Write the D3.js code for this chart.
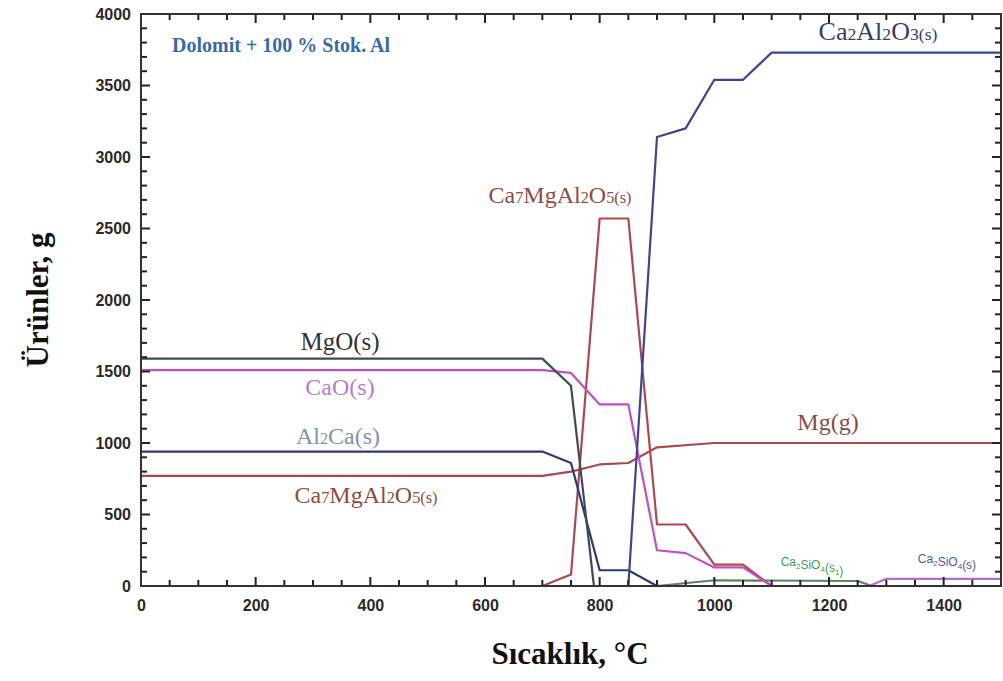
<!DOCTYPE html>
<html><head><meta charset="utf-8">
<script src="https://cdn.jsdelivr.net/npm/d3@7/dist/d3.min.js"></script>
<style>body{margin:0;background:#fff}</style>
</head><body>
<svg id="c" width="1003" height="681"></svg>
<script>
// ---- data (temperature °C, mass g) ----
const xTicks = [0, 200, 400, 600, 800, 1000, 1200, 1400];
const yTicks = [0, 500, 1000, 1500, 2000, 2500, 3000, 3500, 4000];
const MgO      = [[0,1590],[700,1590],[750,1400],[790,0],[1500,0]];
const CaO      = [[0,1510],[700,1510],[750,1490],[800,1270],[850,1270],[900,250],[950,230],[1000,130],[1050,130],[1100,0],[1500,0]];
const Al2Ca    = [[0,940],[700,940],[750,860],[800,110],[850,110],[900,0],[1500,0]];
const MgGas    = [[0,770],[700,770],[750,800],[800,850],[850,860],[900,970],[1000,1000],[1500,1000]];
const Ca7MgAl2O5 = [[700,0],[750,80],[800,2570],[850,2570],[900,430],[950,430],[1000,150],[1050,150],[1100,0],[1500,0]];
const Ca2Al2O3 = [[0,0],[850,0],[900,3140],[950,3200],[1000,3540],[1050,3540],[1100,3730],[1500,3730]];
const Ca2SiO4s1 = [[900,0],[1000,40],[1250,35],[1275,0]];
const Ca2SiO4s  = [[1270,0],[1300,50],[1500,50]];

const series = [
  {d: Ca2SiO4s1, c: "#5f7f68"},
  {d: Ca2SiO4s,  c: "#b070c8"},
  {d: MgGas,     c: "#a94a4e"},
  {d: Ca7MgAl2O5,c: "#a94a4e"},
  {d: Al2Ca,     c: "#2e3a78"},
  {d: CaO,       c: "#c24fbf"},
  {d: MgO,       c: "#3c4c52"},
  {d: Ca2Al2O3,  c: "#3d4590"}
];

// labels: segments [text, isSmall]
const labels = [
  {segs:[["MgO(s)",0]], x:340, y:350, c:"#333333", fs:25},
  {segs:[["CaO(s)",0]], x:340, y:395, c:"#b47ccc", fs:24},
  {segs:[["Al",0],["2",1],["Ca(s)",0]], x:338, y:444, c:"#8592ab", fs:24},
  {segs:[["Ca",0],["7",1],["MgAl",0],["2",1],["O",0],["5(s)",1]], x:366, y:503, c:"#8a4c45", fs:24},
  {segs:[["Ca",0],["7",1],["MgAl",0],["2",1],["O",0],["5(s)",1]], x:560, y:203, c:"#8a4c45", fs:24},
  {segs:[["Mg(g)",0]], x:828, y:430, c:"#8a4c45", fs:24},
  {segs:[["Ca",0],["2",1],["Al",0],["2",1],["O",0],["3(s)",1]], x:878, y:40, c:"#3b3d5a", fs:26},
];
</script>
<script>
const svg = d3.select("#c");
const L = 141, R = 1001, T = 14, B = 586;
const x = d3.scaleLinear().domain([0,1500]).range([L,R]);
const y = d3.scaleLinear().domain([0,4000]).range([B,T]);

// lines
const line = d3.line().x(d=>x(d[0])).y(d=>y(d[1]));
series.forEach(s=>{
  svg.append("path").attr("d",line(s.d)).attr("fill","none").attr("stroke",s.c)
    .attr("stroke-width",2.2).attr("stroke-linejoin","round");
});

// minor + major ticks on all sides (inward)
const g = svg.append("g");
const xMinor = d3.range(0,1501,50), yMinor = d3.range(0,4001,100);
xMinor.forEach(v=>{
  const len = v%200===0 ? 9 : 6;
  g.append("line").attr("x1",x(v)).attr("x2",x(v)).attr("y1",B).attr("y2",B-len).attr("stroke","#222").attr("stroke-width",2);
  g.append("line").attr("x1",x(v)).attr("x2",x(v)).attr("y1",T).attr("y2",T+len).attr("stroke","#222").attr("stroke-width",2);
});
yMinor.forEach(v=>{
  const len = v%500===0 ? 9 : 6;
  g.append("line").attr("y1",y(v)).attr("y2",y(v)).attr("x1",L).attr("x2",L+len).attr("stroke","#222").attr("stroke-width",2);
  g.append("line").attr("y1",y(v)).attr("y2",y(v)).attr("x1",R).attr("x2",R-len).attr("stroke","#222").attr("stroke-width",2);
});

// axes labels via d3 axes
const xAxis = svg.append("g").attr("transform",`translate(0,${B})`)
  .call(d3.axisBottom(x).tickValues(xTicks).tickSize(0).tickPadding(14).tickFormat(d3.format("d")));
const yAxis = svg.append("g").attr("transform",`translate(${L},0)`)
  .call(d3.axisLeft(y).tickValues(yTicks).tickSize(0).tickPadding(10).tickFormat(d3.format("d")));
[xAxis,yAxis].forEach(a=>{
  a.select(".domain").remove();
  a.selectAll("text").attr("font-family","Liberation Sans, Arial, sans-serif").attr("font-weight","bold")
   .attr("font-size",16).attr("fill","#2a2a2a");
});

// frame
svg.append("rect").attr("x",L).attr("y",T).attr("width",R-L).attr("height",B-T)
  .attr("fill","none").attr("stroke","#333").attr("stroke-width",2);

// labels
labels.forEach(l=>{
  const t = svg.append("text").attr("x",l.x).attr("y",l.y).attr("text-anchor","middle")
    .attr("font-family","Liberation Serif, Times New Roman, serif").attr("font-size",l.fs).attr("fill",l.c);
  l.segs.forEach(s=>{
    t.append("tspan").attr("font-size", s[1] ? l.fs*0.68 : l.fs).text(s[0]);
  });
});

// small silicate labels
const sil = [
  {x:812, y:566, c:"#3f9a55", segs:[["Ca",0],["2",1],["SiO",0],["4",1],["(s",0],["1",1],[")",0]]},
  {x:947, y:563, c:"#4c5a9a", segs:[["Ca",0],["2",1],["SiO",0],["4",1],["(s)",0]]}
];
sil.forEach(l=>{
  const t = svg.append("text").attr("x",l.x).attr("y",l.y).attr("text-anchor","middle")
    .attr("font-family","Liberation Sans, Arial, sans-serif").attr("font-size",12).attr("fill",l.c);
  l.segs.forEach(s=>{ const sp=t.append("tspan").text(s[0]); if(s[1]) sp.attr("font-size",8).attr("dy",3); else sp.attr("dy", 0); });
});

// title inside
svg.append("text").attr("x",172).attr("y",52).attr("font-family","Liberation Serif, Times New Roman, serif")
  .attr("font-weight","bold").attr("font-size",20).attr("fill","#3a6aa0").text("Dolomit + 100 % Stok. Al");

// axis titles
svg.append("text").attr("x",570).attr("y",664).attr("text-anchor","middle")
  .attr("font-family","Liberation Serif, Times New Roman, serif").attr("font-weight","bold").attr("font-size",31)
  .attr("fill","#111").text("Sıcaklık, °C");
svg.append("text").attr("transform","translate(48,300) rotate(-90)").attr("text-anchor","middle")
  .attr("font-family","Liberation Serif, Times New Roman, serif").attr("font-weight","bold").attr("font-size",31)
  .attr("fill","#111").text("Ürünler, g");
</script>
</body></html>
